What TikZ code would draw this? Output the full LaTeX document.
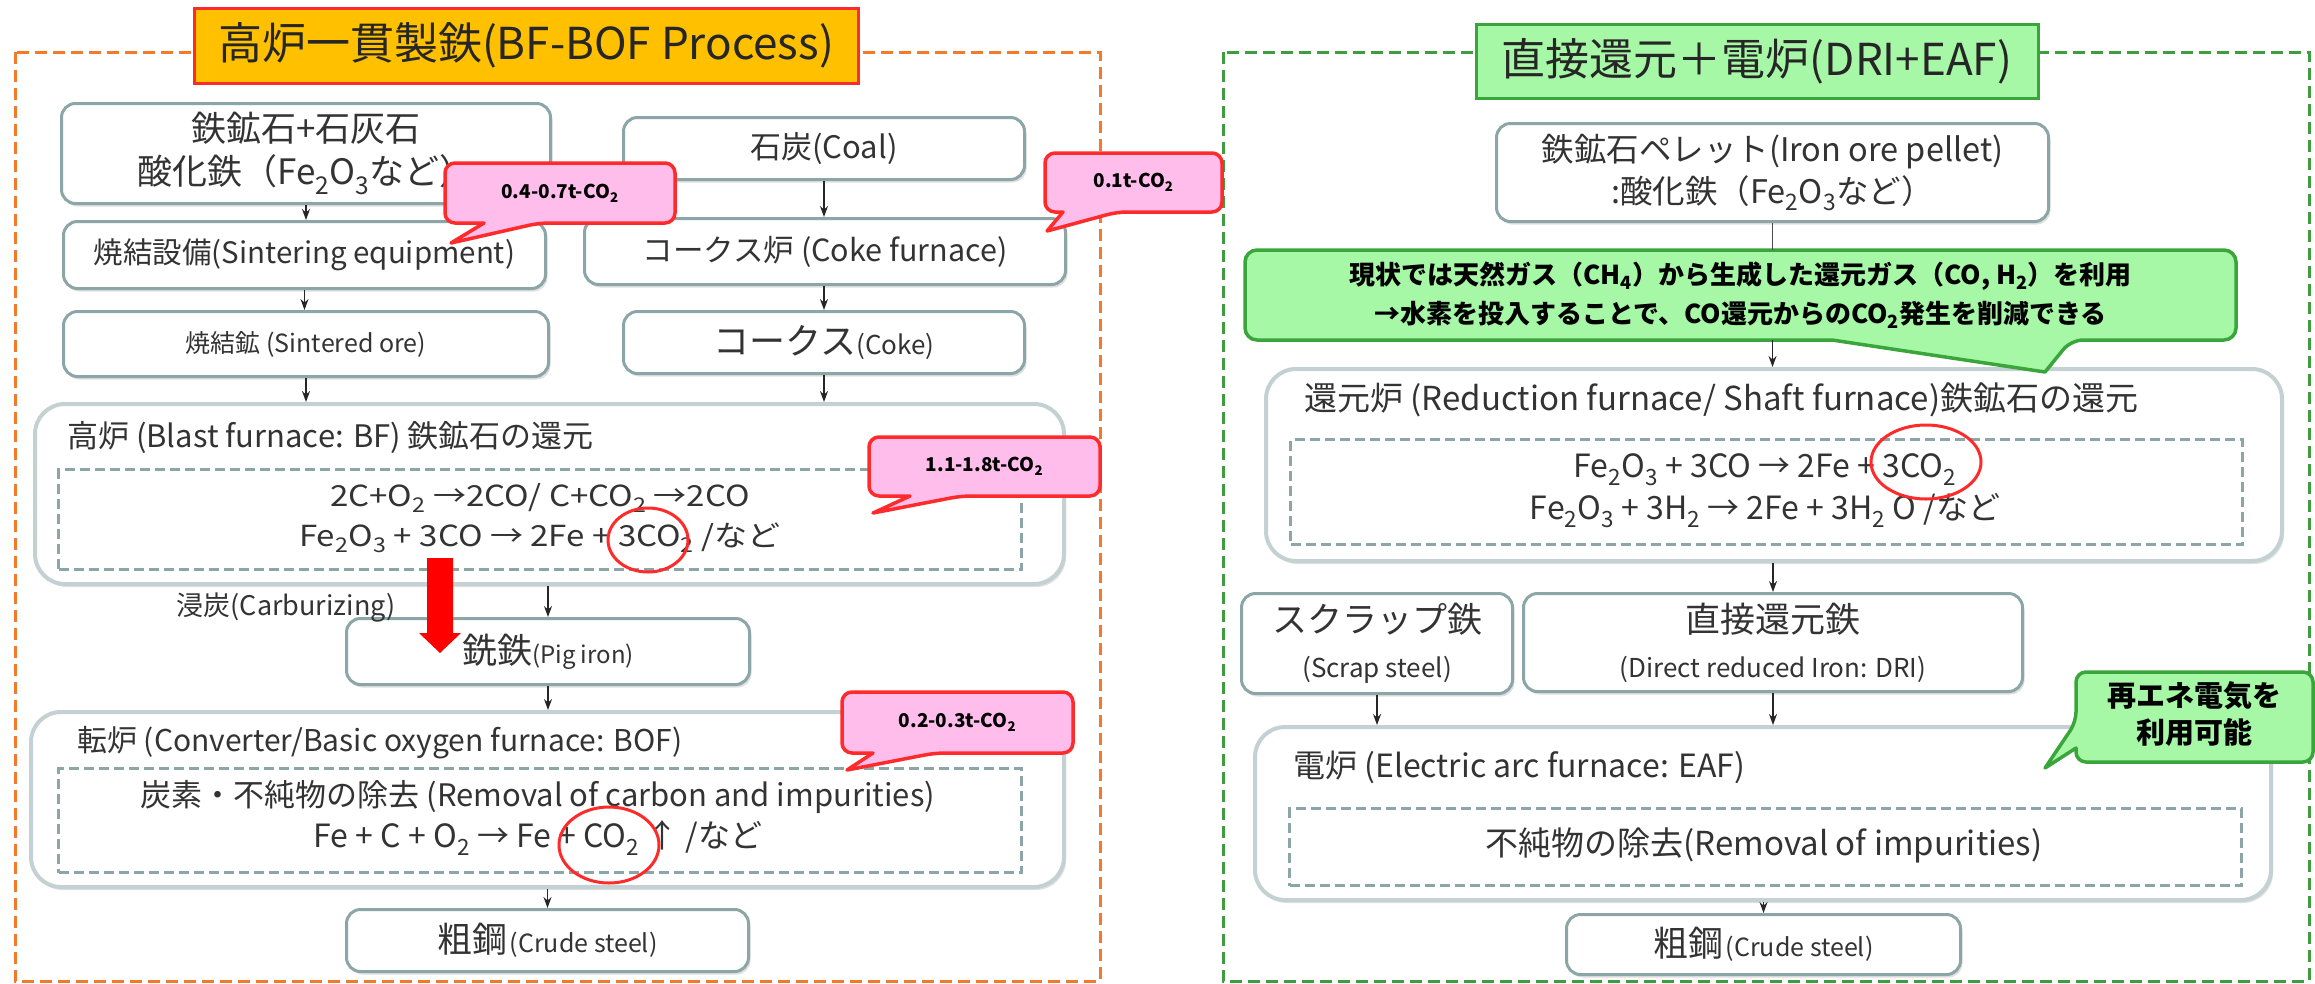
\documentclass[tikz,border=0pt]{standalone}
\usepackage{fontspec}
\setmainfont{Noto Sans CJK JP}
\usepackage{graphicx}
\usetikzlibrary{shadows,arrows.meta}
\definecolor{txt}{HTML}{333333}
\definecolor{bord}{HTML}{8CA6A8}
\definecolor{bigbord}{HTML}{C3D1D3}
\definecolor{orng}{HTML}{F27A2A}
\definecolor{gold}{HTML}{FFC000}
\definecolor{redb}{HTML}{FF2A2A}
\definecolor{pinkf}{HTML}{FFBDEB}
\definecolor{grnf}{HTML}{A6F7A6}
\definecolor{grnb}{HTML}{3AA53A}
\definecolor{grnframe}{HTML}{3E9E3E}
\newcommand\fz[2]{\fontsize{#1pt}{#2pt}\selectfont}
\newcommand\dn[1]{\textsubscript{#1}}
\newcommand\wide[1]{\scalebox{1.14}[1]{#1}}
\begin{document}
\begin{tikzpicture}[x=1pt,y=-1pt,
  shad/.style={drop shadow={shadow xshift=2pt,shadow yshift=-3pt,opacity=0.25,fill=black!50}},
  sbox/.style={draw=bord,line width=3pt,rounded corners=14pt,fill=white,text=txt,align=center,inner sep=0pt,anchor=north west,shad},
  bbox/.style={draw=bigbord,line width=4pt,rounded corners=30pt,fill=white,inner sep=0pt,anchor=north west,shad},
  dbox/.style={draw=bord,line width=3pt,dash pattern=on 10pt off 5pt,inner sep=0pt,anchor=north west},
  arr/.style={-{Stealth[length=11pt,width=8pt]},line width=1.3pt,black!85},
  lnk/.style={line width=1.3pt,black!70},
  callred/.style={draw=redb,line width=3.5pt,fill=pinkf,line join=round},
  callgrn/.style={draw=grnb,line width=3.5pt,fill=grnf,line join=round},
  lbl/.style={text=txt,anchor=west,inner sep=0pt},
  ctext/.style={font=\fz{19}{22}\bfseries,text=black,inner sep=0pt},
  gtext/.style={font=\fz{26}{39}\bfseries,text=black,inner sep=0pt,align=center},
  eq/.style={text=txt,inner sep=0pt,align=center},
  circ/.style={draw=redb,line width=3pt}]
\useasboundingbox (0,0) rectangle (2315,983);

% ---------- frames ----------
\draw[orng,line width=3pt,dash pattern=on 12pt off 6pt] (15,52) rectangle (1100,981);
\draw[grnframe,line width=3pt,dash pattern=on 12pt off 6pt] (1223,52) rectangle (2309,981);
\node[draw=redb,line width=3pt,fill=gold,minimum width=664pt,minimum height=75pt,font=\fz{44}{48},text=black!85,inner sep=0pt] (T1) at (526,45.5) {高炉一貫製鉄(BF-BOF Process)};
\node[draw=grnb,line width=3pt,fill=grnf,minimum width=562pt,minimum height=74pt,font=\fz{44}{48},text=black!85,inner sep=0pt] (T2) at (1757,61) {直接還元＋電炉(DRI+EAF)};

% ---------- left: BF-BOF ----------
\node[sbox,minimum width=489pt,minimum height=100pt,font=\fz{35}{43}] (A) at (60,102) {鉄鉱石+石灰石\\酸化鉄（Fe\dn{2}O\dn{3}など）};
\node[sbox,minimum width=401pt,minimum height=62pt,font=\fz{31}{36}] (B) at (622,116) {石炭(Coal)};
\node[sbox,minimum width=482pt,minimum height=67pt,font=\fz{29.5}{36}] (C) at (62,220) {焼結設備(Sintering equipment)};
\node[sbox,minimum width=481pt,minimum height=66pt,font=\fz{30.5}{36}] (D) at (583,217) {コークス炉 (Coke furnace)};
\node[sbox,minimum width=485pt,minimum height=65pt,font=\fz{25}{30}] (E) at (62,310) {焼結鉱 (Sintered ore)};
\node[sbox,minimum width=401pt,minimum height=62pt] (F) at (622,310) {{\fz{36}{40}コークス}{\fz{26}{30}(Coke)}};

\node[bbox,minimum width=1029pt,minimum height=180pt] (G) at (33,402) {};
\node[dbox,minimum width=963pt,minimum height=100pt] (Gd) at (57,468) {};
\node[lbl,font=\fz{31}{36}] (Gl) at (67,437) {高炉 (Blast furnace: BF) 鉄鉱石の還元};
\node[eq,font=\fz{29}{40}] (Ge) at (540,518) {\wide{2C+O\dn{2} →2CO/ C+CO\dn{2} →2CO}\\\wide{Fe\dn{2}O\dn{3} + 3CO → 2Fe + 3CO\dn{2} /など}};

\node[sbox,minimum width=403pt,minimum height=66pt] (H) at (345,617) {{\fz{35}{40}銑鉄}{\fz{24}{28}(Pig iron)}};
\node[text=txt,inner sep=0pt,font=\fz{27}{32}] (Carb) at (286,608) {浸炭(Carburizing)};

\node[bbox,minimum width=1033pt,minimum height=175pt] (I) at (29,710) {};
\node[dbox,minimum width=963pt,minimum height=104pt] (Id) at (57,767) {};
\node[lbl,font=\fz{30}{36}] (Il) at (77,743) {転炉 (Converter/Basic oxygen furnace: BOF)};
\node[eq,font=\fz{31}{41}] (Ie) at (538,818) {炭素・不純物の除去 (Removal of carbon and impurities)\\{\fz{32}{36}Fe + C + O\dn{2} → Fe + CO\dn{2} ↑ /など}};

\node[sbox,minimum width=402pt,minimum height=62pt] (J) at (345,908) {{\fz{35}{40}粗鋼} {\fz{25}{28}(Crude steel)}};

% arrows left
\draw[arr] (A.south) -- (A.south |- C.north);
\draw[arr] (C.south) -- (C.south |- E.north);
\draw[arr] (B.south) -- (B.south |- D.north);
\draw[arr] (F.north |- D.south) -- (F.north);
\draw[arr] (E.south) -- (E.south |- G.north);
\draw[arr] (F.south) -- (F.south |- G.north);
\draw[arr] (H.north |- G.south) -- (H.north);
\draw[arr] (H.south) -- (H.south |- I.north);
\draw[arr] (J.north |- I.south) -- (J.north);

% red carburizing arrow
\fill[red] (427,558) -- (453,558) -- (453,633) -- (461,633) -- (440,653) -- (419,633) -- (427,633) -- cycle;

% red circles
\draw[circ] (648,540) ellipse [x radius=40pt,y radius=32pt];
\draw[circ] (609,845) ellipse [x radius=50pt,y radius=38pt];

% red callouts
\draw[callred] (484,223) [rounded corners=10pt] -- (445,223) -- (445,163) -- (675,163) -- (675,223) -- (539,223) [sharp corners] -- (451,243) -- cycle;
\node[ctext] (R1) at (560,193) {0.4-0.7t-CO\dn{2}};
\draw[callred] (1063,212) [rounded corners=10pt] -- (1045,212) -- (1045,153) -- (1222,153) -- (1222,212) -- (1117,212) [sharp corners] -- (1047,231) -- cycle;
\node[ctext] (R2) at (1133.5,182.5) {0.1t-CO\dn{2}};
\draw[callred] (910,496) [rounded corners=10pt] -- (869,496) -- (869,437) -- (1100,437) -- (1100,496) -- (961,496) [sharp corners] -- (873,513) -- cycle;
\node[ctext] (R3) at (984.5,466.5) {1.1-1.8t-CO\dn{2}};
\draw[callred] (873,753) [rounded corners=10pt] -- (842,753) -- (842,692) -- (1073,692) -- (1073,753) -- (935,753) [sharp corners] -- (847,770) -- cycle;
\node[ctext] (R4) at (957.5,722.5) {0.2-0.3t-CO\dn{2}};

% ---------- right: DRI + EAF ----------
\node[sbox,minimum width=552pt,minimum height=98pt,font=\fz{32.5}{42}] (K) at (1495,122) {鉄鉱石ペレット(Iron ore pellet)\\:酸化鉄（Fe\dn{2}O\dn{3}など）};

\node[bbox,minimum width=1016pt,minimum height=192pt] (L) at (1264,367) {};
\node[dbox,minimum width=952pt,minimum height=105pt] (Ld) at (1289,438) {};
\node[lbl,font=\fz{33}{36}] (Ll) at (1304,400) {還元炉 (Reduction furnace/ Shaft furnace)鉄鉱石の還元};
\node[eq,font=\fz{32}{42}] (Le) at (1765,491) {Fe\dn{2}O\dn{3} + 3CO → 2Fe + 3CO\dn{2}\\Fe\dn{2}O\dn{3} + 3H\dn{2} → 2Fe + 3H\dn{2} O /など};
\draw[circ] (1926,462) ellipse [x radius=55pt,y radius=37pt];

\node[sbox,minimum width=271pt,minimum height=100pt,font=\fz{26}{45}] (M) at (1240,592) {{\fz{35}{40}スクラップ鉄}\\(Scrap steel)};
\node[sbox,minimum width=499pt,minimum height=98pt,font=\fz{26}{45}] (N) at (1522,592) {{\fz{35}{40}直接還元鉄}\\(Direct reduced Iron: DRI)};

\node[bbox,minimum width=1016pt,minimum height=173pt] (O) at (1253,725) {};
\node[dbox,minimum width=952pt,minimum height=77pt] (Od) at (1288,807) {};
\node[lbl,font=\fz{32}{36}] (Ol) at (1293,767) {電炉 (Electric arc furnace: EAF)};
\node[eq,font=\fz{33}{36}] (Oe) at (1764,845) {不純物の除去(Removal of impurities)};

\node[sbox,minimum width=394pt,minimum height=60pt] (P) at (1565,913) {{\fz{35}{40}粗鋼} {\fz{25}{28}(Crude steel)}};

% green callouts
\node[minimum width=991pt,minimum height=90pt,inner sep=0pt] (CG) at (1740.5,295) {};
\draw[callgrn] (1832,340) [rounded corners=12pt] -- (1245,340) -- (1245,250) -- (2236,250) -- (2236,340) -- (2071,340) [sharp corners] -- (2045,372) -- cycle;
\node[gtext] (CGt) at (CG.center) {現状では天然ガス（CH\dn{4}）から生成した還元ガス（CO, H\dn{2}）を利用\\→水素を投入することで、CO還元からのCO\dn{2}発生を削減できる};
\draw[callgrn] (2076,748) [rounded corners=10pt] -- (2076,762) -- (2313,762) -- (2313,672) -- (2076,672) -- (2076,722) [sharp corners] -- (2045,768) -- cycle;
\node[gtext,font=\fz{29}{37}\bfseries] (SG) at (2194,714) {再エネ電気を\\利用可能};

% arrows right
\draw[lnk] (K.south) -- (K.south |- CG.north);
\draw[arr] (K.south |- CG.south) -- (K.south |- L.north);
\draw[arr] (N.north |- L.south) -- (N.north);
\draw[arr] (M.south) -- (M.south |- O.north);
\draw[arr] (N.south) -- (N.south |- O.north);
\draw[arr] (P.north |- O.south) -- (P.north);
\end{tikzpicture}
\end{document}
